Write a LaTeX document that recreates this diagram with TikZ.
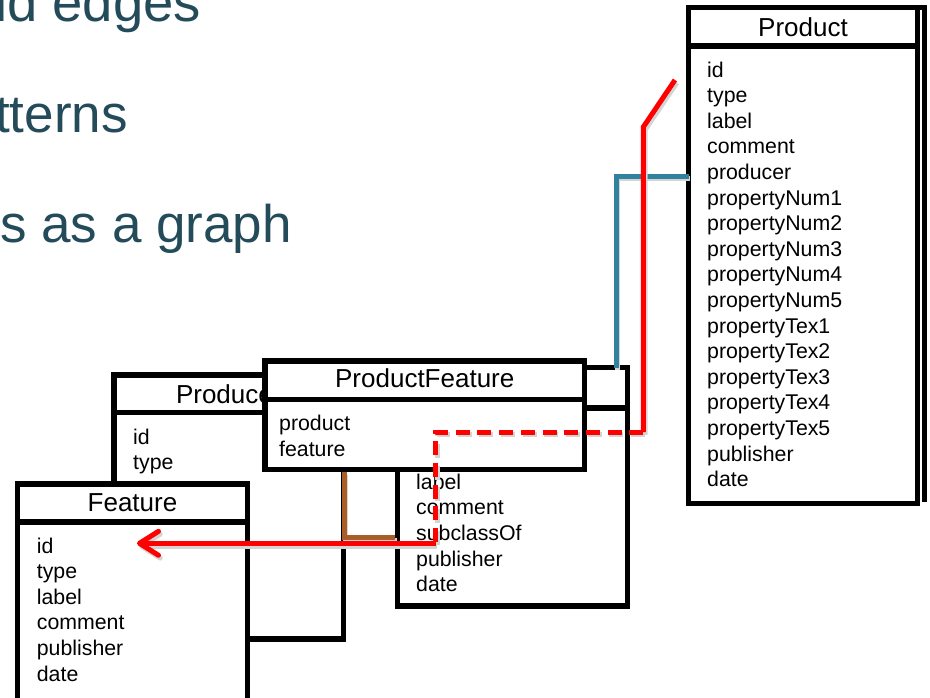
\documentclass[tikz,border=0pt]{standalone}
\usepackage{fontspec}
\setmainfont{Liberation Sans}
\usetikzlibrary{arrows.meta,calc}

\definecolor{slidetext}{RGB}{36,75,90}
\definecolor{linkblue}{RGB}{49,130,158}
\definecolor{linkbrown}{RGB}{168,94,38}
\definecolor{linkred}{RGB}{255,0,0}
\definecolor{shade}{RGB}{212,212,212}

\tikzset{
  tablebox/.style={draw=black, line width=5.4pt, fill=white, inner sep=0pt, outer sep=0pt, anchor=north west},
  headrule/.style={draw=black, line width=5.4pt},
  ttl/.style={font=\fontsize{26}{31}\selectfont, anchor=base, inner sep=0pt},
  fld/.style={font=\fontsize{21.3}{25.6}\selectfont, anchor=base west, inner sep=0pt},
  slide/.style={text=slidetext, anchor=base west, inner sep=0pt},
  link/.style={line width=5pt, line cap=butt, line join=miter},
  linkdash/.style={link, dash pattern=on 14pt off 7.7pt},
  shadowcopy/.style={draw=shade, transform canvas={shift={(1.8pt,-2.8pt)}}},
  barb/.style={-{Straight Barb[length=19pt,width=24pt,round]}}
}

\begin{document}
\begin{tikzpicture}[x=1pt,y=-1pt]
\useasboundingbox (0,0) rectangle (930,697);
\clip (0,0) rectangle (930,697);

% slide bullet text running off the left edge
\node[slide, font=\fontsize{54.5}{64}\selectfont] (b1) at (-5,21.5) {id edges};
\node[slide, font=\fontsize{53}{63}\selectfont] (b2) at (-5,132) {tterns};
\node[slide, font=\fontsize{53}{63}\selectfont] (b3) at (0,242) {s as a graph};

% Producer table
\node[tablebox, minimum width=229.5pt, minimum height=264pt] (prodr) at (114,375) {};
\draw[headrule] (prodr.west |- 0,412.5) -- (prodr.east |- 0,412.5);
\node[ttl] (prodrT) at (228.75,403) {Producer};
\foreach \f [count=\i from 0] in {id,type}
  \node[fld] (prodrF\i) at (133,{444+25.6*\i}) {\f};

% ProductType table
\node[tablebox, minimum width=230pt, minimum height=238.5pt] (ptype) at (397.5,367.5) {};
\draw[headrule] (ptype.west |- 0,408) -- (ptype.east |- 0,408);
\foreach \f [count=\i from 0] in {label,comment,subclassOf,publisher,date}
  \node[fld] (ptypeF\i) at (416,{489.3+25.6*\i}) {\f};

% ProductFeature table
\node[tablebox, minimum width=319.5pt, minimum height=108.3pt] (pfeat) at (265,361) {};
\draw[headrule] (pfeat.west |- 0,399.7) -- (pfeat.east |- 0,399.7);
\node[ttl] (pfeatT) at (424.75,387) {ProductFeature};
\foreach \f [count=\i from 0] in {product,feature}
  \node[fld] (pfeatF\i) at (279,{430.4+25.6*\i}) {\f};

% Feature table
\node[tablebox, minimum width=230pt, minimum height=300pt] (feat) at (17.5,484) {};
\draw[headrule] (feat.west |- 0,522) -- (feat.east |- 0,522);
\node[ttl] (featT) at (132.5,511.7) {Feature};
\foreach \f [count=\i from 0] in {id,type,label,comment,publisher,date}
  \node[fld] (featF\i) at (36.7,{553+25.6*\i}) {\f};

% Product table, with a doubled right edge
\node[tablebox, minimum width=229pt, minimum height=496.2pt] (prod) at (688.5,7.5) {};
\draw[headrule] (prod.west |- 0,46) -- (prod.east |- 0,46);
\draw[headrule, line width=4.4pt] (prod.north east) -| ($(prod.south east)+(7,-1.5)$);
\node[ttl] (prodT) at (803,36) {Product};
\foreach \f [count=\i from 0] in {id,type,label,comment,producer,propertyNum1,propertyNum2,propertyNum3,propertyNum4,propertyNum5,propertyTex1,propertyTex2,propertyTex3,propertyTex4,propertyTex5,publisher,date}
  \node[fld] (prodF\i) at (707,{77+25.6*\i}) {\f};

% connector waypoints
\coordinate (bluehook) at (616,176);
\coordinate (browncorner) at (344,537.5);
\coordinate (redstart) at (675,80);
\coordinate (redbend) at (643.3,127);
\coordinate (redknee) at (643.3,432);
\coordinate (redjog) at (435.5,432);
\coordinate (reddrop) at (435.5,543.3);
\coordinate (redtip) at (137,543.3);

% Product -- ProductType
\draw[link, shadowcopy] (prod.west |- bluehook) -- (bluehook) -- (ptype.north -| bluehook);
\draw[link, linkblue] (prod.west |- bluehook) -- (bluehook) -- (ptype.north -| bluehook);

% ProductFeature -- ProductType
\draw[link, shadowcopy] ([yshift=-2.7pt]pfeat.south -| browncorner) -- (browncorner) -- ([xshift=-2.7pt]ptype.west |- browncorner);
\draw[link, linkbrown] ([yshift=-2.7pt]pfeat.south -| browncorner) -- (browncorner) -- ([xshift=-2.7pt]ptype.west |- browncorner);

% Product -> Feature route
\draw[link, shadowcopy] (redstart) -- (redbend) -- (redknee);
\draw[linkdash, shadowcopy] (redknee) -- (redjog) -- (reddrop);
\draw[link, shadowcopy, barb] (reddrop) -- (redtip);
\draw[link, linkred] (redstart) -- (redbend) -- (redknee);
\draw[linkdash, linkred] (redknee) -- (redjog) -- (reddrop);
\draw[link, linkred, barb] (reddrop) -- (redtip);
\end{tikzpicture}
\end{document}
